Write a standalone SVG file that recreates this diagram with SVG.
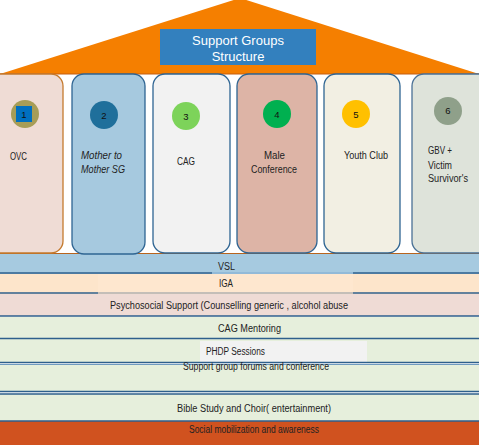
<svg xmlns="http://www.w3.org/2000/svg" width="479" height="445" viewBox="0 0 479 445">
<style>
.t{font-family:"Liberation Sans",Arial,sans-serif;font-size:10.5px;fill:#222}
.n{font-family:"Liberation Sans",Arial,sans-serif;font-size:9.5px;fill:#111;text-anchor:middle}
.b{font-family:"Liberation Sans",Arial,sans-serif;font-size:10px;fill:#222}
.pil{stroke:#2F6593;stroke-width:1.3}
.dl{stroke:#2E5F8C;stroke-width:1.6}
</style>
<rect width="479" height="445" fill="#fff"/>
<g id="roof">
<polygon points="0,74 240,-2 479,74" fill="#F57F00"/>
<line x1="0" y1="74" x2="479" y2="74" stroke="#C35F10" stroke-width="1.2"/>
</g>
<g id="title">
<rect x="160" y="29" width="156" height="36" fill="#3380BE"/>
<text x="238" y="45" font-family="Liberation Sans,Arial,sans-serif" font-size="13" fill="#fff" text-anchor="middle">Support Groups</text>
<text x="238" y="61" font-family="Liberation Sans,Arial,sans-serif" font-size="13" fill="#fff" text-anchor="middle">Structure</text>
</g>
<g id="bands">
<rect x="0" y="253" width="479" height="21" fill="#A6CAE0"/>
<rect x="0" y="274" width="479" height="20" fill="#FDE5CB"/>
<rect x="98" y="274" width="255" height="19" fill="#FEE7CF"/>
<rect x="0" y="294" width="479" height="22" fill="#EFDBD5"/>
<rect x="0" y="317" width="479" height="22" fill="#E6EFDC"/>
<rect x="0" y="339" width="479" height="24" fill="#E6EFDC"/>
<rect x="200" y="341" width="167" height="21" fill="#F2F2F2"/>
<rect x="0" y="364" width="479" height="28" fill="#E6EFDC"/>
<rect x="0" y="394" width="479" height="27" fill="#E6EFDC"/>
<rect x="0" y="421" width="479" height="24" fill="#D0521F"/>
<line x1="0" y1="253.5" x2="479" y2="253.5" stroke="#B8641E" stroke-width="1"/>
<line x1="0" y1="273" x2="212" y2="273" class="dl"/>
<line x1="212" y1="273" x2="353" y2="273" stroke="#7FAAD0" stroke-width="1.2"/>
<line x1="353" y1="273" x2="479" y2="273" class="dl"/>
<line x1="0" y1="293" x2="98" y2="293" class="dl"/>
<line x1="98" y1="293" x2="353" y2="293" stroke="#B0B0B0" stroke-width="1.4"/>
<line x1="353" y1="293" x2="479" y2="293" class="dl"/>
<line x1="0" y1="316" x2="479" y2="316" class="dl"/>
<line x1="0" y1="338.5" x2="479" y2="338.5" class="dl"/>
<line x1="0" y1="362.5" x2="479" y2="362.5" class="dl"/>
<line x1="0" y1="364.5" x2="479" y2="364.5" stroke="#6F9AC0" stroke-width="1"/>
<line x1="0" y1="391.5" x2="479" y2="391.5" class="dl"/>
<line x1="0" y1="394" x2="479" y2="394" class="dl"/>
<line x1="0" y1="421" x2="479" y2="421" class="dl"/>
<text class="b" x="218" y="270" textLength="17" lengthAdjust="spacingAndGlyphs">VSL</text>
<text class="b" x="219" y="287" textLength="14" lengthAdjust="spacingAndGlyphs">IGA</text>
<text class="b" x="110" y="309" textLength="238" lengthAdjust="spacingAndGlyphs">Psychosocial Support (Counselling  generic , alcohol abuse</text>
<text class="b" x="218" y="332" textLength="63" lengthAdjust="spacingAndGlyphs">CAG Mentoring</text>
<text class="b" x="206" y="355" textLength="59" lengthAdjust="spacingAndGlyphs">PHDP Sessions</text>
<text class="b" x="183" y="370" font-size="8.5" textLength="146" lengthAdjust="spacingAndGlyphs">Support group forums and conference</text>
<text class="b" x="177" y="412" textLength="154" lengthAdjust="spacingAndGlyphs">Bible Study and Choir( entertainment)</text>
<text class="b" x="189" y="433" font-size="9" textLength="130" lengthAdjust="spacingAndGlyphs">Social mobilization and awareness</text>
</g>
<g id="p1">
<rect x="-20" y="74" width="83" height="179" rx="12" fill="#EFDCD5" stroke="#C47A2E" stroke-width="1.3"/>
<circle cx="25" cy="114" r="14" fill="#A79D57"/>
<rect x="16" y="106" width="16" height="16" fill="#0070C0"/>
<text class="n" x="24" y="118">1</text>
<text class="t" x="10" y="160" textLength="17" lengthAdjust="spacingAndGlyphs">OVC</text>
</g>
<g id="p2">
<rect x="72" y="74" width="73" height="180" rx="12" fill="#A6C9DF" class="pil"/>
<circle cx="104" cy="115" r="14" fill="#1F6F9B"/>
<text class="n" x="104" y="119">2</text>
<text class="t" x="81" y="159" font-style="italic" textLength="41" lengthAdjust="spacingAndGlyphs">Mother to</text>
<text class="t" x="81" y="173" font-style="italic" textLength="44" lengthAdjust="spacingAndGlyphs">Mother SG</text>
</g>
<g id="p3">
<rect x="153" y="74" width="77" height="179" rx="12" fill="#F2F2F2" class="pil"/>
<circle cx="186" cy="116" r="14" fill="#7DD35A"/>
<text class="n" x="186" y="120">3</text>
<text class="t" x="177" y="165" textLength="18" lengthAdjust="spacingAndGlyphs">CAG</text>
</g>
<g id="p4">
<rect x="237" y="74" width="80" height="179" rx="12" fill="#DDB4A6" class="pil"/>
<circle cx="277" cy="114" r="14" fill="#00B050"/>
<text class="n" x="277" y="118">4</text>
<text class="t" x="264" y="159" textLength="21" lengthAdjust="spacingAndGlyphs">Male</text>
<text class="t" x="251" y="173" textLength="46" lengthAdjust="spacingAndGlyphs">Conference</text>
</g>
<g id="p5">
<rect x="324" y="74" width="76" height="179" rx="12" fill="#F2EFE3" class="pil"/>
<circle cx="356" cy="114" r="14" fill="#FFC000"/>
<text class="n" x="356" y="118">5</text>
<text class="t" x="344" y="159" textLength="44" lengthAdjust="spacingAndGlyphs">Youth Club</text>
</g>
<g id="p6">
<rect x="412" y="74" width="80" height="179" rx="12" fill="#DEE3DA" stroke="#4A7196" stroke-width="1.3"/>
<circle cx="448" cy="111" r="14" fill="#8FA08A"/>
<text class="n" x="448" y="114">6</text>
<text class="t" x="428" y="154" textLength="24" lengthAdjust="spacingAndGlyphs">GBV +</text>
<text class="t" x="428" y="169" textLength="24" lengthAdjust="spacingAndGlyphs">Victim</text>
<text class="t" x="428" y="182" textLength="40" lengthAdjust="spacingAndGlyphs">Survivor's</text>
</g>
</svg>
